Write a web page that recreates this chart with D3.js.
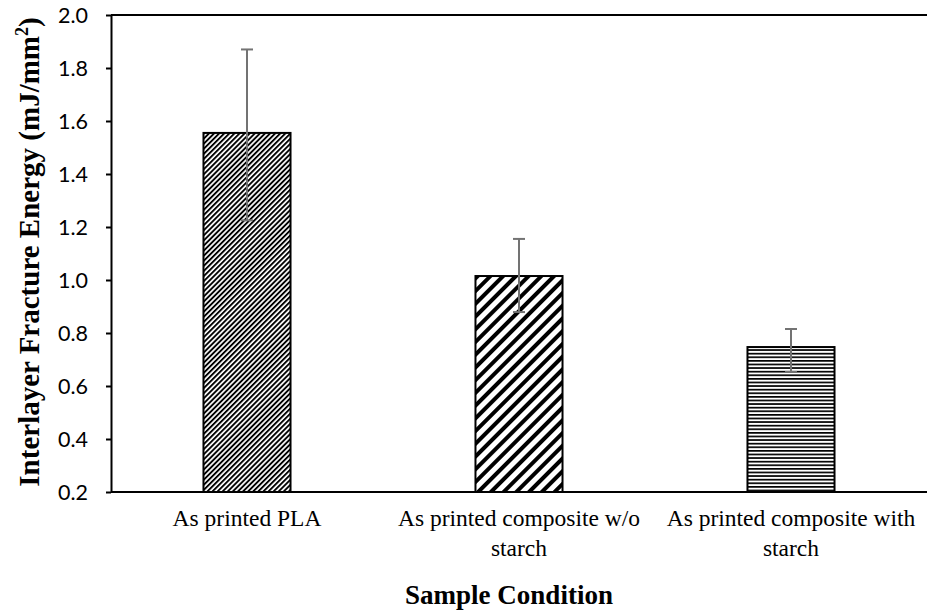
<!DOCTYPE html>
<meta charset="utf-8">
<script src="https://d3js.org/d3.v7.min.js"></script>
<html>
<style>
body { margin: 0; background: #fff; }
.serif { font-family: "Liberation Serif", "Times New Roman", "DejaVu Serif", serif; }
.sans { font-family: Lato, "Open Sans", sans-serif; }
</style>
<body>
<svg id="chart" width="927" height="613"></svg>
<script>

// data
var categories = ["As printed PLA", "As printed composite w/o starch", "As printed composite with starch"];
var labelLines = [["As printed PLA"], ["As printed composite w/o", "starch"], ["As printed composite with", "starch"]];
var energy = [1.555, 1.015, 0.747];
var errUp = [0.315, 0.14, 0.068];
var errDown = [0.33, 0.136, 0.094];
var yTicks = [0.2, 0.4, 0.6, 0.8, 1.0, 1.2, 1.4, 1.6, 1.8, 2.0];

var svg = d3.select("#chart"),
  width = +svg.attr("width"),
  height = +svg.attr("height");

var margin = {top: 15, right: 0, bottom: 121, left: 111};

var x = d3.scaleBand()
  .domain(categories)
  .range([margin.left, width - margin.right])
  .paddingInner(0.68)
  .paddingOuter(0.34);

var y = d3.scaleLinear()
  .domain([0.2, 2.0])
  .range([height - margin.bottom, margin.top]);

// hatch patterns
var defs = svg.append("defs");
function hatch(id, size, thick, angle) {
  var p = defs.append("pattern")
    .attr("id", id)
    .attr("patternUnits", "userSpaceOnUse")
    .attr("width", size).attr("height", size)
    .attr("patternTransform", "rotate(" + angle + ")");
  p.append("rect").attr("width", size).attr("height", size).attr("fill", "#fff");
  p.append("rect").attr("width", size).attr("height", thick).attr("fill", "#000");
}
hatch("h0", 3.6, 1.9, -45);
hatch("h1", 9, 4, -45);
hatch("h2", 3.6, 1.7, 0);

// top border
svg.append("line")
  .attr("x1", margin.left).attr("x2", width)
  .attr("y1", margin.top).attr("y2", margin.top)
  .attr("stroke", "#000").attr("stroke-width", 2);

// bars
svg.append("g").selectAll("rect")
  .data(categories)
  .enter().append("rect")
    .attr("x", function(d) { return x(d); })
    .attr("y", function(d, i) { return y(energy[i]); })
    .attr("width", x.bandwidth())
    .attr("height", function(d, i) { return y(0.2) - y(energy[i]); })
    .attr("fill", function(d, i) { return "url(#h" + i + ")"; })
    .attr("stroke", "#000")
    .attr("stroke-width", 2);

// error bars
var eb = svg.append("g").attr("stroke", "#737373").attr("stroke-width", 2);
categories.forEach(function(c, i) {
  var cx = x(c) + x.bandwidth() / 2;
  var top = y(energy[i] + errUp[i]), bot = y(energy[i] - errDown[i]);
  eb.append("line").attr("x1", cx).attr("x2", cx).attr("y1", top).attr("y2", bot);
  eb.append("line").attr("x1", cx - 6).attr("x2", cx + 6).attr("y1", top).attr("y2", top);
  eb.append("line").attr("x1", cx - 6).attr("x2", cx + 6).attr("y1", bot).attr("y2", bot);
});

// y axis
var yAxis = svg.append("g")
  .attr("transform", "translate(" + margin.left + ",0)")
  .call(d3.axisLeft(y).tickValues(yTicks).tickFormat(d3.format(".1f")).tickSize(5).tickSizeOuter(0));
yAxis.attr("font-family", null).attr("font-size", null);
yAxis.select(".domain").attr("stroke-width", 2);
yAxis.selectAll(".tick line").attr("stroke-width", 2);
yAxis.selectAll("text")
  .attr("x", -23)
  .attr("dy", "0.36em")
  .attr("class", "sans")
  .style("font-size", "21.5px")
  .attr("fill", "#000");

// x axis line
svg.append("line")
  .attr("x1", margin.left).attr("x2", width)
  .attr("y1", y(0.2)).attr("y2", y(0.2))
  .attr("stroke", "#000").attr("stroke-width", 2);

// category labels
var xl = svg.append("g");
categories.forEach(function(c, i) {
  var t = xl.append("text")
    .attr("class", "serif")
    .attr("x", x(c) + x.bandwidth() / 2)
    .attr("y", 526)
    .attr("text-anchor", "middle")
    .style("font-size", "23.5px")
    .attr("fill", "#000");
  labelLines[i].forEach(function(line, j) {
    t.append("tspan").attr("x", x(c) + x.bandwidth() / 2).attr("dy", j ? 30 : 0).text(line);
  });
});

// axis titles
svg.append("text")
  .attr("class", "serif")
  .attr("x", 509)
  .attr("y", 604)
  .attr("text-anchor", "middle")
  .style("font-size", "27px")
  .style("font-weight", "bold")
  .text("Sample Condition");

var yt = svg.append("text")
  .attr("class", "serif")
  .attr("transform", "translate(39,252) rotate(-90)")
  .attr("text-anchor", "middle")
  .style("font-size", "29px")
  .style("font-weight", "bold");
yt.append("tspan").text("Interlayer Fracture Energy (mJ/mm");
yt.append("tspan").attr("dy", -11).style("font-size", "18px").text("2");
yt.append("tspan").attr("dy", 11).text(")");

</script>
</body>
</html>
